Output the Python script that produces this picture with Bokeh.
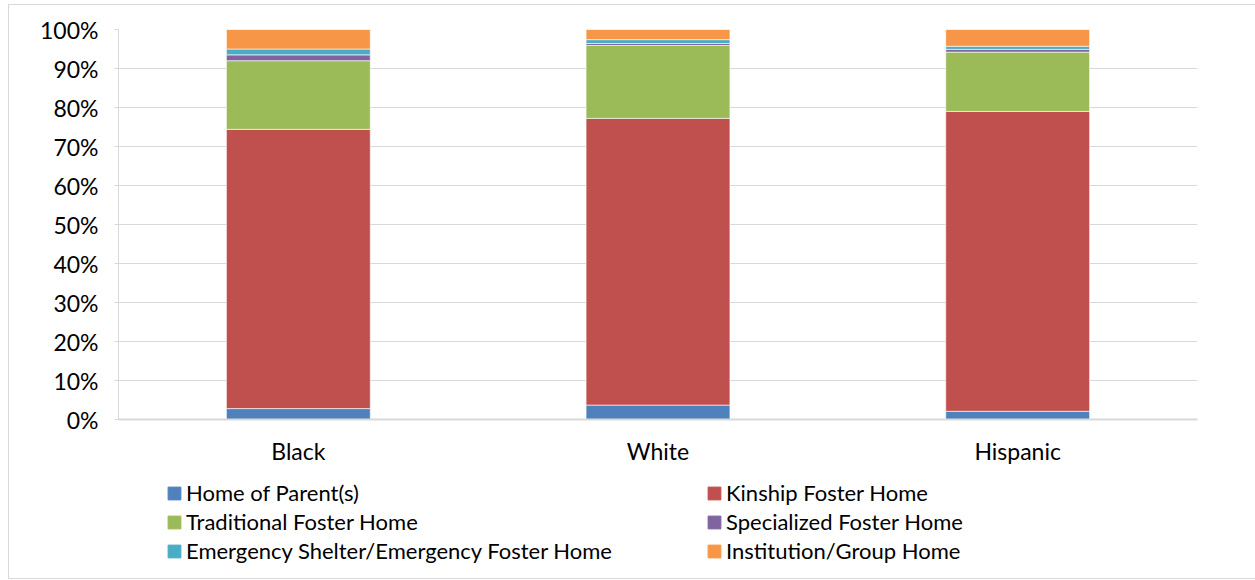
from bokeh.plotting import figure
from bokeh.layouts import column
from bokeh.models import (FactorRange, Range1d, FixedTicker, PrintfTickFormatter,
                          Legend, LegendItem)
from bokeh.embed import file_html
from bokeh.resources import INLINE

groups = ["Black", "White", "Hispanic"]
series = ["Home of Parent(s)", "Kinship Foster Home", "Traditional Foster Home",
          "Specialized Foster Home", "Emergency Shelter/Emergency Foster Home",
          "Institution/Group Home"]
home_of_parents = [2.8, 3.7, 2.1]
kinship = [71.6, 73.5, 76.9]
traditional = [17.6, 18.7, 15.2]
specialized = [1.5, 0.5, 0.7]
emergency = [1.5, 1.0, 0.8]
institution = [5.0, 2.6, 4.3]
colors = ["#4F81BD", "#C0504D", "#9BBB59", "#8064A2", "#4BACC6", "#F79646"]
y_ticks = [0, 10, 20, 30, 40, 50, 60, 70, 80, 90, 100]

FONT = "Lato"
FS = "23px"
LFS = "22px"

data = {"group": groups}
keys = ["s0", "s1", "s2", "s3", "s4", "s5"]
for k, v in zip(keys, [home_of_parents, kinship, traditional, specialized, emergency, institution]):
    data[k] = v

# main chart
p = figure(width=1246, height=469, x_range=FactorRange(*groups, range_padding=0),
           y_range=Range1d(0, 100), output_backend="svg", toolbar_location=None,
           min_border_left=109, min_border_right=58, min_border_top=24, min_border_bottom=55)
p.outline_line_color = None
p.background_fill_color = "white"
p.border_fill_color = "white"

renderers = p.vbar_stack(keys, x="group", width=0.4, source=data, color=colors,
                         line_color="white", line_width=1, line_alpha=0.6)

p.xgrid.grid_line_color = None
p.ygrid.grid_line_color = "#d9d9d9"
p.ygrid.grid_line_width = 1
p.ygrid.ticker = FixedTicker(ticks=y_ticks)

p.yaxis.ticker = FixedTicker(ticks=y_ticks)
p.yaxis.formatter = PrintfTickFormatter(format="%d%%")
p.yaxis.axis_line_color = "#d9d9d9"
p.yaxis.major_tick_line_color = "#d9d9d9"
p.yaxis.major_tick_out = 4
p.yaxis.major_tick_in = 0
p.yaxis.minor_tick_line_color = None
p.yaxis.major_label_standoff = 16
p.yaxis.major_label_text_font = FONT
p.yaxis.major_label_text_font_size = FS
p.yaxis.major_label_text_color = "black"

p.xaxis.axis_line_color = "#d9d9d9"
p.xaxis.axis_line_width = 2
p.xaxis.major_tick_line_color = None
p.xaxis.minor_tick_line_color = None
p.xaxis.major_label_standoff = 11
p.xaxis.major_label_text_font = FONT
p.xaxis.major_label_text_font_size = FS
p.xaxis.major_label_text_color = "black"

# legend strip below (hidden copies of the stack supply the legend swatches)
q = figure(width=1246, height=104, x_range=FactorRange(*groups), y_range=Range1d(200, 300),
           output_backend="svg", toolbar_location=None,
           min_border_left=0, min_border_right=0, min_border_top=0, min_border_bottom=0)
q.axis.visible = False
q.grid.grid_line_color = None
q.outline_line_color = None
q.border_fill_color = "white"
leg_renderers = q.vbar_stack(keys, x="group", width=0.4, source=data, color=colors)

items = [LegendItem(label=s, renderers=[r]) for s, r in zip(series, leg_renderers)]
legend = Legend(items=items, location=(48, 13), orientation="horizontal", ncols=2,
                glyph_width=16, glyph_height=16, label_standoff=4, label_width=520,
                label_height=29, spacing=0, padding=0, margin=0,
                border_line_color=None, background_fill_alpha=0,
                label_text_font=FONT, label_text_font_size=LFS, label_text_color="black")
q.add_layout(legend, "center")

layout = column(p, q, spacing=0)
layout.margin = (4, 0, 0, 8)
layout.styles = {"border-left": "1px solid #d9d9d9", "border-top": "1px solid #d9d9d9",
                 "border-bottom": "1px solid #d9d9d9"}

open("out.html", "w").write(file_html(layout, INLINE))
